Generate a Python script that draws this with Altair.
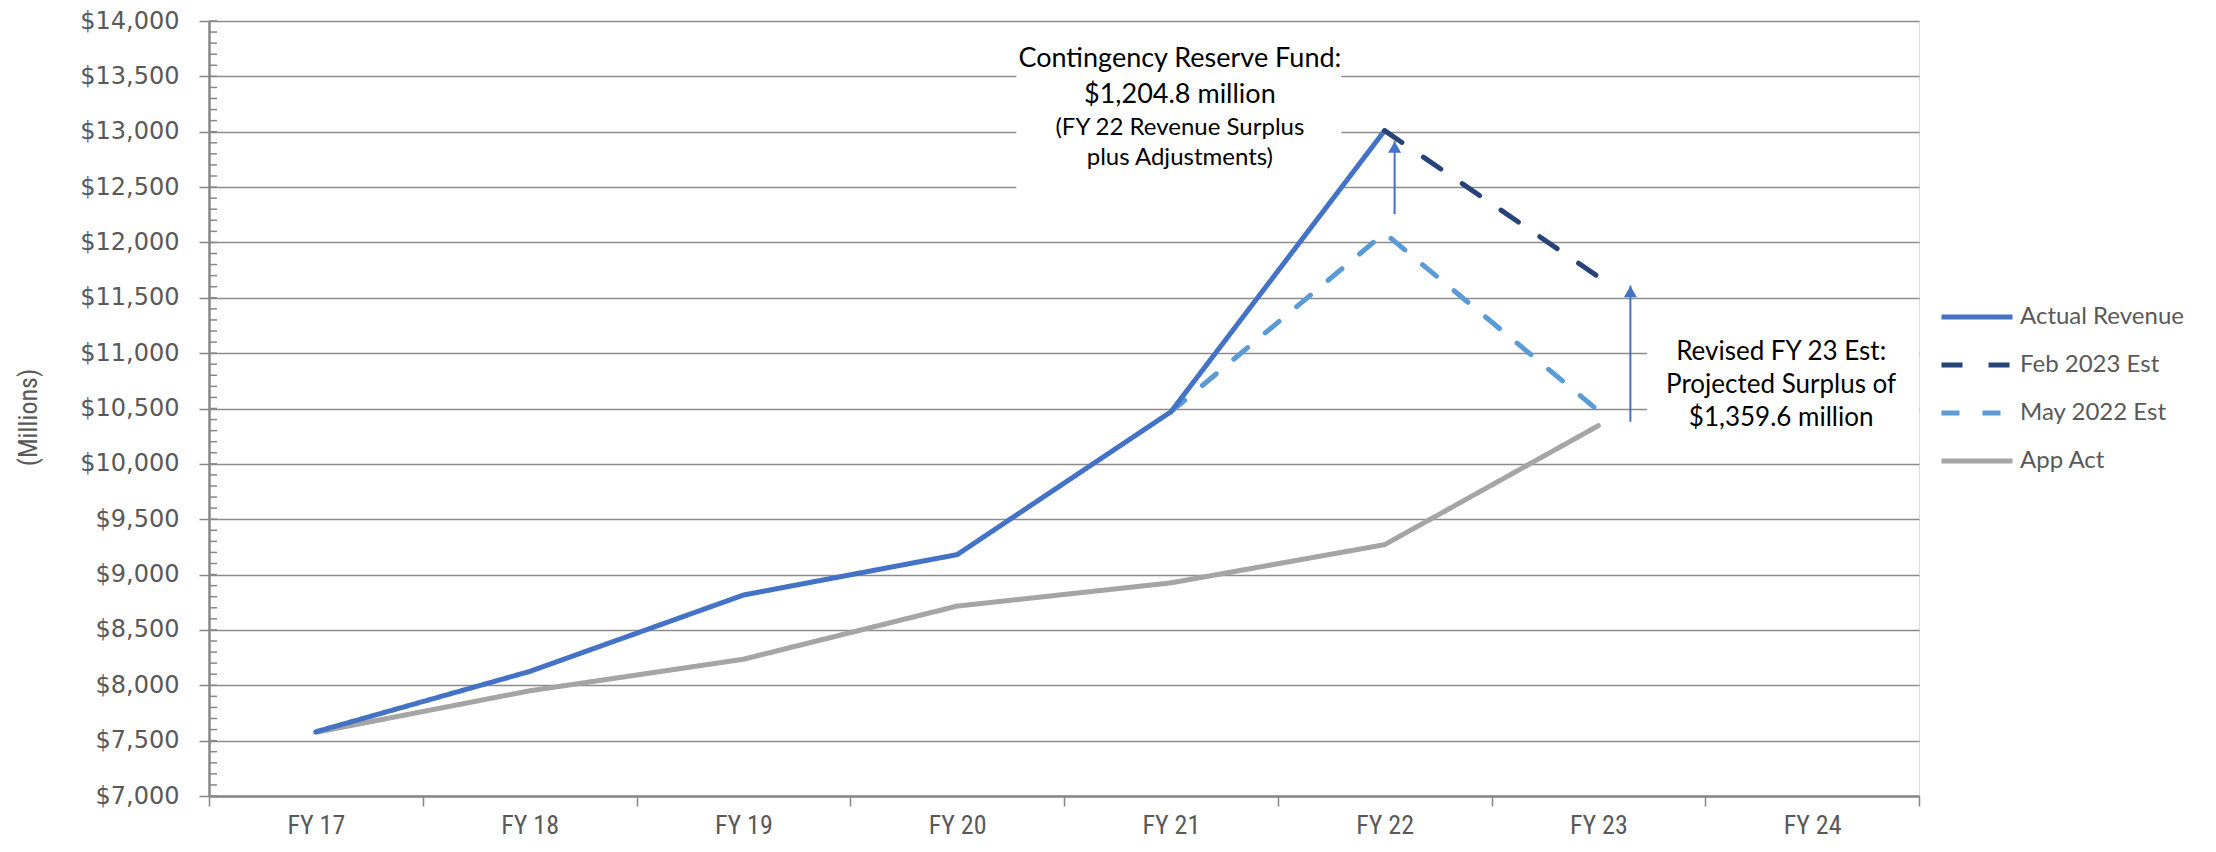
import altair as alt
import pandas as pd

# ---- data ----
fy = ["FY 17", "FY 18", "FY 19", "FY 20", "FY 21", "FY 22", "FY 23", "FY 24"]
actual_revenue = [7580, 8125, 8815, 9180, 10470, 13010, None, None]
feb_2023_est = [None, None, None, None, None, 13010, 11690, None]
may_2022_est = [None, None, None, None, 10470, 12085, 10480, None]
app_act = [7575, 7950, 8235, 8715, 8925, 9270, 10345, None]

series_names = ["Actual Revenue", "Feb 2023 Est", "May 2022 Est", "App Act"]
series_colors = ["#4472C4", "#264478", "#5B9BD5", "#A5A5A5"]
series_dash = [[1, 0], [21, 26], [18, 23], [1, 0]]
series_width = [5, 5, 5, 7]

y_ticks = list(range(7000, 14001, 500))
minor_ticks = list(range(7000, 14001, 100))

# annotation 1 (Contingency Reserve Fund)
note1_lines = ["Contingency Reserve Fund:", "$1,204.8 million", "(FY 22 Revenue Surplus", "plus Adjustments)"]
note1_y = [13657, 13332, 13035, 12762]
note1_size = [27, 27, 24, 24]
# annotation 2 (Revised FY 23 Est)
note2_lines = ["Revised FY 23 Est:", "Projected Surplus of", "$1,359.6 million"]
note2_y = [11010, 10715, 10410]
note2_size = [26, 26, 26]

# arrows: category, start value, tip value
arrow_cat = ["FY 22", "FY 23"]
arrow_start = [12255, 10380]
arrow_tip = [12915, 11610]

# ---- build tables ----
rows = []
series_values = {
    "Actual Revenue": actual_revenue,
    "Feb 2023 Est": feb_2023_est,
    "May 2022 Est": may_2022_est,
    "App Act": app_act,
}
for name in ["App Act", "May 2022 Est", "Actual Revenue", "Feb 2023 Est"]:
    for i, (f, v) in enumerate(zip(fy, series_values[name])):
        if v is not None:
            rows.append({"fy": f, "value": v, "series": name, "idx": i})
df = pd.DataFrame(rows)

x_scale = alt.Scale(domain=fy, type="band", paddingInner=0, paddingOuter=0)
y_scale = alt.Scale(domain=[7000, 14000], nice=False, zero=False)

GRAY_TXT = "#595959"
AX = "#878787"
NARROW = "Roboto Condensed, Roboto, Liberation Sans"
CAL = "Lato, Open Sans, sans-serif"

x_axis = alt.Axis(
    title=None, tickBand="extent", tickSize=10, tickColor=AX, tickWidth=1.5,
    domainColor=AX, domainWidth=2.5, labelFont=NARROW,
    labelFontSize=26, labelColor=GRAY_TXT, labelPadding=6, grid=False,
    labelAngle=0,
)
y_axis = alt.Axis(
    values=y_ticks, format="$,.0f", tickSize=10, tickColor=AX, tickWidth=1.5,
    domainColor=AX, domainWidth=2.5, labelFont="DejaVu Sans", labelFontSize=24,
    labelColor=GRAY_TXT, labelPadding=20, grid=True, gridColor="#8c8c8c",
    gridWidth=1.5, title="(Millions)", titleFont=NARROW,
    titleFontSize=26, titleFontWeight="normal", titleColor=GRAY_TXT,
    titleX=-181, titleY=396, titleAlign="center", titleBaseline="middle",
    titleAngle=-90,
)

legend_spec = alt.Legend(
    title=None, orient="none", legendX=1730, legendY=281,
    symbolType="stroke", symbolSize=5041, symbolStrokeWidth=5,
    labelFont=CAL, labelFontSize=24, labelColor=GRAY_TXT, labelLimit=400,
    labelOffset=5, rowPadding=18, clipHeight=30,
)


def X(field="fy:N", band=0.5):
    return alt.X(field, scale=x_scale, axis=x_axis, bandPosition=band)


def Y(field):
    return alt.Y(field, scale=y_scale, axis=y_axis)


base = alt.Chart(df)

lines = base.mark_line(strokeCap="round", strokeJoin="round").encode(
    x=X(),
    y=Y("value:Q"),
    color=alt.Color("series:N", scale=alt.Scale(domain=series_names, range=series_colors), legend=legend_spec),
    strokeDash=alt.StrokeDash("series:N", scale=alt.Scale(domain=series_names, range=series_dash), legend=legend_spec),
    strokeWidth=alt.StrokeWidth("series:N", scale=alt.Scale(domain=series_names, range=series_width), legend=None),
    order="idx:Q",
)

minor = alt.Chart(pd.DataFrame({"v": minor_ticks})).mark_rule(color=AX, strokeWidth=1.5).encode(
    y=Y("v:Q"),
    x=alt.value(0), x2=alt.value(8),
)

box_df = pd.DataFrame({"fy": ["FY 21", "FY 24"], "y1": [13880, 11390], "y2": [12380, 10120]})
box1 = alt.Chart(box_df.iloc[[0]]).mark_bar(color="white", width=325, xOffset=8).encode(
    x=alt.X("fy:N", scale=x_scale, axis=x_axis), y=Y("y1:Q"), y2="y2:Q")
box2 = alt.Chart(box_df.iloc[[1]]).mark_bar(color="white", width=272, xOffset=-29).encode(
    x=alt.X("fy:N", scale=x_scale, axis=x_axis), y=Y("y1:Q"), y2="y2:Q")

n1 = pd.DataFrame({"fy": ["FY 21"] * len(note1_lines), "y": note1_y, "t": note1_lines, "fs": note1_size})
n2 = pd.DataFrame({"fy": ["FY 24"] * len(note2_lines), "y": note2_y, "t": note2_lines, "fs": note2_size})
text1 = alt.Chart(n1).mark_text(font=CAL, color="black", align="center", baseline="middle", dx=9).encode(
    x=X(), y=Y("y:Q"), text="t:N", size=alt.Size("fs:Q", scale=None, legend=None))
text2 = alt.Chart(n2).mark_text(font=CAL, color="black", align="center", baseline="middle", dx=-31).encode(
    x=X(), y=Y("y:Q"), text="t:N", size=alt.Size("fs:Q", scale=None, legend=None))

arrow_layers = []
for cat, s, t, off in zip(arrow_cat, arrow_start, arrow_tip, [10, 32]):
    adf = pd.DataFrame({"fy": [cat], "s": [s], "t": [t]})
    arrow_layers.append(alt.Chart(adf).mark_rule(color="#4472C4", strokeWidth=2, xOffset=off).encode(
        x=X(), y=Y("s:Q"), y2="t:Q"))
    arrow_layers.append(alt.Chart(adf).mark_point(shape="triangle-up", filled=True, opacity=1,
                                                  color="#4472C4", size=170, xOffset=off, yOffset=6).encode(
        x=X(), y=Y("t:Q")))

chart = alt.layer(minor, box1, box2, lines, *arrow_layers, text1, text2).properties(
    width=1710, height=775,
    autosize=alt.AutoSizeParams(type="none"),
    padding={"left": 201, "top": 13, "right": 289, "bottom": 48},
).configure_view(stroke="#8c8c8c", strokeWidth=1.5).configure(background="white")

chart.save("out.html", embed_options={"renderer": "svg", "actions": False})
